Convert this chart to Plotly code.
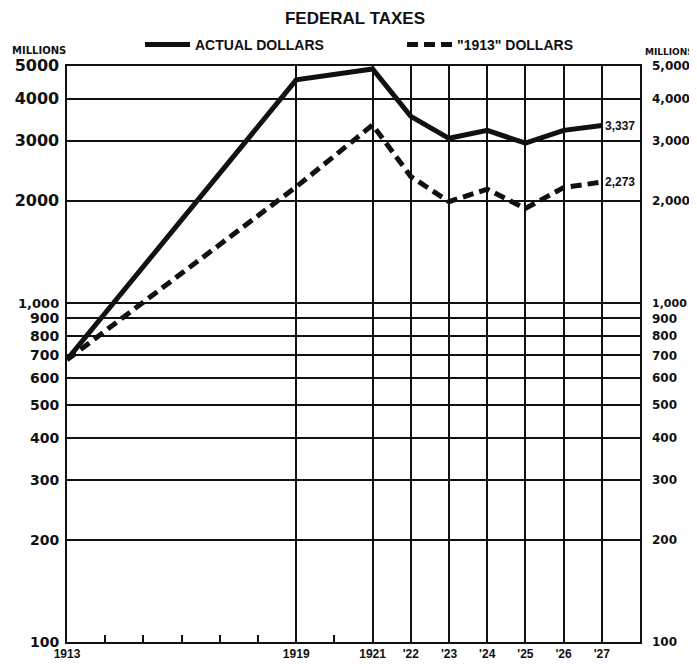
import math
import plotly.graph_objects as go

years = [1913, 1919, 1921, 1922, 1923, 1924, 1925, 1926, 1927]
actual = [680, 4550, 4900, 3550, 3060, 3230, 2960, 3230, 3337]
dollars_1913 = [680, 2200, 3350, 2360, 1990, 2165, 1900, 2190, 2273]

x_tick_vals = [1913, 1919, 1921, 1922, 1923, 1924, 1925, 1926, 1927]
x_tick_text = ["1913", "1919", "1921", "'22", "'23", "'24", "'25", "'26", "'27"]
x_minor_vals = [1914, 1915, 1916, 1917, 1918, 1920]

y_vals = [100, 200, 300, 400, 500, 600, 700, 800, 900, 1000, 2000, 3000, 4000, 5000]
y_left_labels = ["100", "200", "300", "400", "500", "600", "700", "800", "900",
                 "1,000", "2000", "3000", "4000", "5000"]
y_right_labels = ["100", "200", "300", "400", "500", "600", "700", "800", "900",
                  "1,000", "2,000", "3,000", "4,000", "5,000"]

FONT = "Liberation Sans"
TICKFONT = "DejaVu Sans"
ink = "#111111"


def sized(labels, vals, small, thousand, big):
    out = []
    for lab, v in zip(labels, vals):
        size = big if v >= 2000 else (thousand if v == 1000 else small)
        out.append(f'<span style="font-size:{size}px">{lab}</span>')
    return out


y_left_text = sized(y_left_labels, y_vals, 14, 13, 16)
y_right_text = sized(y_right_labels, y_vals, 12, 11, 12)

# figure is drawn inside a body with an 8px default margin
W, H = 689, 657
L, R, T, B = 59, 57, 58, 23
plot_w = W - L - R
plot_h = H - T - B

fig = go.Figure()
fig.add_trace(go.Scatter(x=years, y=actual, mode="lines", name="ACTUAL DOLLARS",
                         line=dict(color=ink, width=5)))
fig.add_trace(go.Scatter(x=years, y=dollars_1913, mode="lines", name='"1913" DOLLARS',
                         line=dict(color=ink, width=5, dash="11px,6px")))
fig.add_trace(go.Scatter(x=[years[0]], y=[actual[0]], yaxis="y2", mode="markers",
                         marker=dict(opacity=0), showlegend=False, hoverinfo="skip"))

for series in (actual, dollars_1913):
    fig.add_annotation(x=years[-1], y=math.log10(series[-1]), xref="x", yref="y",
                       text=f"{series[-1]:,}", showarrow=False, xanchor="left", xshift=1,
                       yanchor="middle",
                       font=dict(family=FONT, size=12, color=ink, weight="bold"))

fig.add_annotation(x=(2 - L) / plot_w, y=1.0, xref="paper", yref="paper", yanchor="middle",
                   yshift=16, xanchor="left", text="MILLIONS", showarrow=False,
                   font=dict(family=TICKFONT, size=10, color=ink, weight="bold"))
fig.add_annotation(x=1.0 + (R - 1) / plot_w, y=1.0, xref="paper", yref="paper",
                   yanchor="middle", yshift=14, xanchor="right", text="MILLIONS",
                   showarrow=False, font=dict(family=TICKFONT, size=9, color=ink, weight="bold"))

ylog_range = [2, 3.69897]

fig.update_layout(
    width=W, height=H,
    margin=dict(l=L, r=R, t=T, b=B, autoexpand=False),
    paper_bgcolor="white", plot_bgcolor="white",
    title=dict(text="FEDERAL TAXES", x=347 / W, xanchor="center", y=1 - 10 / H,
               yanchor="middle", font=dict(family=FONT, size=17, color=ink, weight="bold")),
    showlegend=True,
    legend=dict(orientation="h", x=(132 - L) / plot_w, xanchor="left",
                y=1 + 21 / plot_h, yanchor="middle",
                font=dict(family=FONT, size=14, color=ink, weight="bold"),
                bgcolor="rgba(0,0,0,0)", entrywidth=202, entrywidthmode="pixels",
                itemwidth=45, tracegroupgap=0),
    xaxis=dict(range=[1913, 1928], tickmode="array", tickvals=x_tick_vals,
               ticktext=x_tick_text, showgrid=True, gridcolor=ink, gridwidth=1.6, ticks="",
               showline=True, linecolor=ink, linewidth=2, mirror=True, zeroline=False,
               automargin=False,
               tickfont=dict(family=FONT, size=12, color=ink, weight="bold"),
               minor=dict(tickmode="array", tickvals=x_minor_vals, ticks="inside", ticklen=7,
                          tickwidth=2, tickcolor=ink, showgrid=False)),
    yaxis=dict(type="log", range=ylog_range, tickmode="array", tickvals=y_vals,
               ticktext=y_left_text, showgrid=True, gridcolor=ink, gridwidth=1.6, ticks="",
               showline=True, linecolor=ink, linewidth=2, mirror=True, zeroline=False,
               automargin=False,
               tickfont=dict(family=TICKFONT, size=14, color=ink, weight="bold"),
               ticklabelstandoff=3),
    yaxis2=dict(type="log", range=ylog_range, overlaying="y", side="right", tickmode="array",
                tickvals=y_vals, ticktext=y_right_text, showgrid=False, ticks="",
                showline=False, zeroline=False, automargin=False,
                tickfont=dict(family=TICKFONT, size=12, color=ink, weight="bold"),
                ticklabelstandoff=11),
)

fig.write_html("out.html")
